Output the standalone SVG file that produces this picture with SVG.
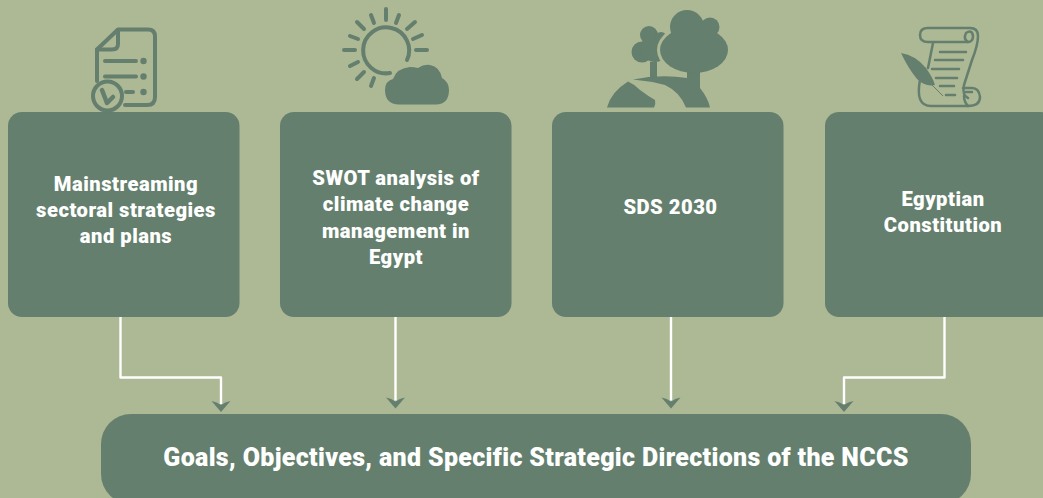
<svg xmlns="http://www.w3.org/2000/svg" width="1043" height="498" viewBox="0 0 1043 498">
<style>
.bg{fill:#adb895}
.box{fill:#647f6d}
.t{font-family:"Roboto","Liberation Sans",sans-serif;font-weight:900;fill:#fff;text-anchor:middle;font-size:20.2px;letter-spacing:.5px}
.big{font-size:25px;letter-spacing:.33px}
.ln{fill:none;stroke:#fff;stroke-width:2.400;stroke-linejoin:round}
.ic{fill:none;stroke:#647f6d;stroke-linecap:round;stroke-linejoin:round}
.f{fill:#647f6d}
</style>
<defs>
<path id="ah" d="M-9.500 -4Q-4 -3 0 0Q4 -3 9.500 -4L0 7Z" fill="#647f6d"/>
</defs>
<rect class="bg" width="1043" height="498"/>
<g id="connectors">
<use href="#ah" x="221" y="405"/>
<use href="#ah" x="395.500" y="401.500"/>
<use href="#ah" x="671" y="401.500"/>
<use href="#ah" x="844" y="405"/>
<path class="ln" d="M120.500 316V377.500H221V404"/>
<path class="ln" d="M395.500 316V400.500"/>
<path class="ln" d="M671 316V400.500"/>
<path class="ln" d="M944.500 316V377.500H844V404"/>
</g>
<g id="node-mainstreaming">
<rect class="box" x="8" y="112" width="231.500" height="205" rx="14"/>
<text class="t" x="126" y="191">Mainstreaming</text>
<text class="t" x="126" y="217">sectoral strategies</text>
<text class="t" x="126" y="243">and plans</text>
<g class="ic" stroke-width="4">
<path d="M97 81V49.500L118 29.500H148Q155 29.500 155 36.500V97Q155 105 147 105H125"/>
<path d="M118 30V44Q118 49.500 112 49.500H97"/>
<path d="M105 61H136M105 76.500H136M126 92H133"/>
<circle cx="107.500" cy="96" r="14.500"/>
<path d="M102 90L107 103L113 97" stroke-width="4.500"/>
</g>
<circle class="f" cx="143.500" cy="61" r="3.200"/><circle class="f" cx="143.500" cy="76.500" r="3.200"/><circle class="f" cx="143.500" cy="92" r="3.200"/>
</g>
<g id="node-swot">
<rect class="box" x="280" y="112" width="231.500" height="205" rx="14"/>
<text class="t" x="396" y="185">SWOT analysis of</text>
<text class="t" x="396" y="211">climate change</text>
<text class="t" x="396" y="238">management in</text>
<text class="t" x="396" y="264">Egypt</text>
<g class="ic" stroke-width="4">
<path d="M407 60A23 23 0 1 0 390 73"/>
<path d="M386 9V20M371 15L374 23M357 22L364 29M350 36L358 39M344 50H355M350 66L358 62M357 79L364 72M371 86L374 78M399 15L396 23M415 22L407 29M422 35L413 39M416 50H427"/>
</g>
<path class="f" d="M399 104.500Q385 104 385 90Q385 81 393 79Q397 68 410 67Q414 67 418 68Q424 64 430 65Q440 67 442 78Q449 82 449 90Q449 104 436 104.500Z"/>
</g>
<g id="node-sds">
<rect class="box" x="552" y="112" width="231.500" height="205" rx="14"/>
<text class="t" x="670.500" y="214">SDS 2030</text>
<path class="f" d="M607 107.500Q611 92 628 81.500Q634 84 640 90Q648 96 655 100Q656 104 654 107.500Z"/>
<path class="f" d="M650 78V62H657V78Z"/>
<circle class="f" cx="649" cy="35" r="9"/><circle class="f" cx="642" cy="52" r="10.500"/><circle class="f" cx="655" cy="48" r="14"/><circle class="f" cx="661" cy="38" r="6"/>
<ellipse class="bg" cx="694" cy="50" rx="37" ry="26"/>
<path class="f" d="M633 79.500Q660 74 687 78V60H700V88Q708 98 710 107.500H686Q680 92 665 85Q650 81 633 79.500Z"/>
<circle class="f" cx="687" cy="27" r="17"/><circle class="f" cx="710" cy="27" r="9.500"/><ellipse class="f" cx="694" cy="50" rx="34" ry="23"/>
</g>
<g id="node-constitution">
<rect class="box" x="825" y="112" width="230" height="205" rx="14"/>
<text class="t" x="943" y="206">Egyptian</text>
<text class="t" x="943" y="232">Constitution</text>
<g class="ic" stroke-width="2.500">
<path d="M968 42H928Q920 42 920 35Q920 28 928 28H970Q978 28 978 36Q978 45 972 60L964 85Q962 96 968 98"/>
<path d="M966 33Q972 29 973 36Q973 42 968 42Q963 39 966 33"/>
<path d="M933 43L928 68M920 80Q915 106 931 106H968Q980 106 980 97Q979 88 972 88H963"/>
<path d="M968 106Q964 102 964 96M966 92H972"/>
<path d="M940 52H966M935 60H963M932 69H959M936 78H957M940 86H954M946 95H955"/>
</g>
<path class="f" d="M901 53Q915 55 926 68Q933 78 935 85Q925 87 917 79Q908 68 901 53Z"/>
<path d="M930 83L943 96" fill="none" stroke="#647f6d" stroke-width="1"/>
</g>
<g id="node-goals">
<rect class="box" x="101" y="414" width="870" height="90" rx="30"/>
<text class="t big" x="536" y="466">Goals, Objectives, and Specific Strategic Directions of the NCCS</text>
</g>
</svg>
